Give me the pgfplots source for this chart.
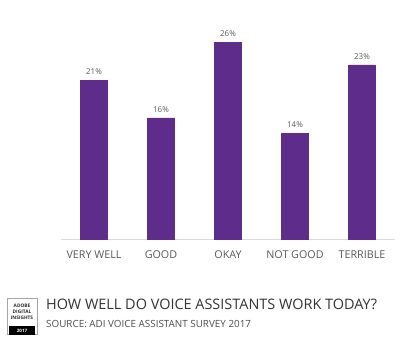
\documentclass[border=0pt]{standalone}
\usepackage{pgfplots}
\pgfplotsset{compat=1.18}
\usepackage{fontspec}
\setmainfont{Open Sans}
\definecolor{barpurple}{RGB}{94,45,140}
\definecolor{txtgray}{RGB}{89,89,89}
\definecolor{axgray}{RGB}{217,217,217}
\begin{document}
\begin{tikzpicture}[x=1bp,y=1bp]
\path[use as bounding box] (0,0) rectangle (403,357);
\begin{axis}[
  at={(94bp,118bp)}, anchor=origin,
  scale only axis, width=335bp, height=227bp,
  xmin=-0.5, xmax=4.5, ymin=0, ymax=30,
  ybar, bar width=27bp,
  axis x line*=bottom, axis y line=none,
  x axis line style={draw=axgray, line width=0.8pt},
  xtick=data, xtick style={draw=none},
  xticklabels={VERY WELL, GOOD, OKAY, NOT GOOD, TERRIBLE},
  xticklabel style={font=\fontsize{10.8}{12}\selectfont, text=txtgray, yshift=-4bp},
  nodes near coords={\pgfmathprintnumber{\pgfplotspointmeta}\%},
  nodes near coords style={font=\fontsize{8}{9}\selectfont, text=txtgray, yshift=2bp},
  /pgf/number format/assume math mode=true,
  clip=false,
]
\addplot[fill=barpurple, draw=barpurple] coordinates {(0,21) (1,16) (2,26) (3,14) (4,23)};
\end{axis}
% logo
\draw[gray!70, line width=0.6pt] (7,23) rectangle (37,59);
\fill[black] (9,22) rectangle (35,31);
\node[text=white, font=\fontsize{4.5}{5}\selectfont\bfseries] at (22,26.5) {2017};
\node[align=center, font=\fontsize{4.8}{6}\selectfont\bfseries, text=black!85] at (22,45) {ADOBE\\DIGITAL\\INSIGHTS};
\node[anchor=base west, inner sep=0, font=\fontsize{14.5}{16}\selectfont, text=black!80] at (46,48) {HOW WELL DO VOICE ASSISTANTS WORK TODAY?};
\node[anchor=base west, inner sep=0, font=\fontsize{9.9}{11}\selectfont, text=black!70] at (46,30) {SOURCE: ADI VOICE ASSISTANT SURVEY 2017};
\end{tikzpicture}
\end{document}
